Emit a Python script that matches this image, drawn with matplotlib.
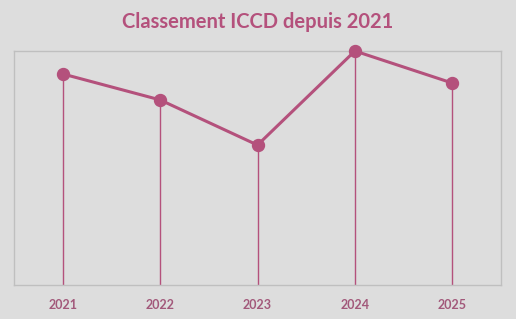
import matplotlib
matplotlib.use("Agg")
import matplotlib.pyplot as plt

years = ["2021", "2022", "2023", "2024", "2025"]
values = [90.2, 79.1, 59.8, 100.0, 86.3]
title = "Classement ICCD depuis 2021"

bg = "#dddddd"
pink = "#b4517c"
label_col = "#a2587a"

fig = plt.figure(figsize=(5.16, 3.19), dpi=100, facecolor=bg)
ax = fig.add_axes([14/516, 1-285/319, 487/516, 234/319], facecolor=bg)

x = list(range(len(years)))
ax.vlines(x, 0, values, color=pink, linewidth=1.0, zorder=2)
ax.plot(x, values, color=pink, linewidth=2.2, marker="o", markersize=8.6,
        zorder=3, clip_on=False)

ax.set_xlim(-0.5, len(years) - 0.5)
ax.set_ylim(0, 100)
ax.set_yticks([])
ax.set_xticks(x)
ax.set_xticklabels(years, fontsize=9, fontweight="bold", color=label_col,
                   family=["Lato", "DejaVu Sans"])
ax.tick_params(axis="x", length=0, pad=10)
for s in ax.spines.values():
    s.set_color("#bfbfbf")
    s.set_linewidth(1.0)

fig.text(0.5, 1-22/319, title, ha="center", va="center",
         fontsize=14.5, fontweight="bold", color=pink,
         family=["Lato", "DejaVu Sans"])

fig.savefig("out.png", dpi=100, facecolor=bg)
